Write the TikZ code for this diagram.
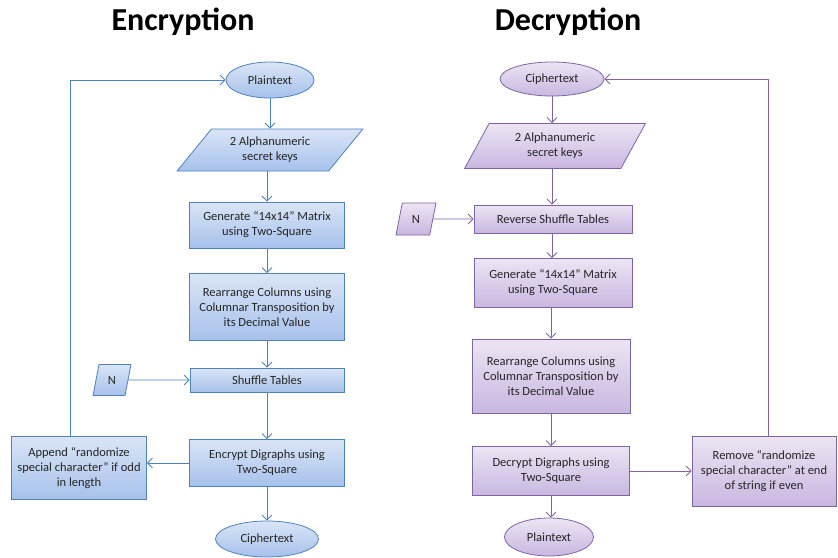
\documentclass[tikz,border=0pt]{standalone}
\usepackage{fontspec}
\setmainfont{Carlito}
\usepackage{tikz}
\usetikzlibrary{shapes.geometric}
\usetikzlibrary{arrows.meta}
\usetikzlibrary{positioning}
\definecolor{encline}{HTML}{4F81BD}
\definecolor{enctop}{HTML}{DAE5F6}
\definecolor{encbot}{HTML}{A6C1EB}
\definecolor{decline}{HTML}{8064A2}
\definecolor{dectop}{HTML}{ECE5F4}
\definecolor{decbot}{HTML}{C8B7E0}
\tikzstyle{base}=[inner sep=1pt, align=center, line width=0.8pt,
  font=\fontsize{12.5}{15}\selectfont, text=black!85]
\tikzstyle{eproc}=[base, rectangle, draw=encline, top color=enctop, bottom color=encbot]
\tikzstyle{dproc}=[base, rectangle, draw=decline, top color=dectop, bottom color=decbot]
\tikzstyle{eterm}=[eproc, ellipse]
\tikzstyle{dterm}=[dproc, ellipse]
\tikzstyle{eio}=[eproc, trapezium, trapezium stretches=true]
\tikzstyle{dio}=[dproc, trapezium, trapezium stretches=true]
\tikzstyle{arrenc}=[->, >={Straight Barb[length=5pt,width=10pt]}, line width=0.8pt,
  draw=encline]
\tikzstyle{arrdec}=[->, >={Straight Barb[length=5pt,width=10pt]}, line width=0.8pt,
  draw=decline]
\tikzstyle{heading}=[font=\fontsize{32}{36}\selectfont\bfseries, text=black]
\begin{document}
\begin{tikzpicture}[x=1pt, y=-1pt]
\useasboundingbox (0,0) rectangle (838,557);

\node[heading] (enctitle) at (183,22) {Encryption};
\node[heading] (dectitle) at (568,22) {Decryption};

% encryption side
\node[eterm, minimum width=88pt, minimum height=36pt] (eplain) at (270,80) {Plaintext};
\node[eio, minimum width=186pt, minimum height=42pt, trapezium left angle=49,
  trapezium right angle=131] (ekeys) at (270,150) {2 Alphanumeric\\secret keys};
\node[eproc, minimum width=155pt, minimum height=46pt] (egen) at (267,225)
  {Generate ``14x14'' Matrix\\using Two-Square};
\node[eproc, minimum width=155pt, minimum height=67pt] (erearr) at (267,307)
  {Rearrange Columns using\\Columnar Transposition by\\its Decimal Value};
\node[eproc, minimum width=154pt, minimum height=24pt] (eshuffle) at (267,380) {Shuffle Tables};
\node[eio, minimum width=38pt, minimum height=31pt, trapezium left angle=77,
  trapezium right angle=103] (en) at (112,380) {N};
\node[eproc, minimum width=155pt, minimum height=47pt] (eencrypt) at (267,463)
  {Encrypt Digraphs using\\Two-Square};
\node[eproc, minimum width=135pt, minimum height=63pt] (eappend) at (79,468)
  {Append ``randomize\\special character'' if odd\\in length};
\node[eterm, minimum width=103pt, minimum height=36pt] (ecipher) at (267,539) {Ciphertext};

\draw[arrenc] (eplain) -- (ekeys);
\draw[arrenc] (ekeys.south -| egen) -- (egen);
\draw[arrenc] (egen) -- (erearr);
\draw[arrenc] (erearr) -- (eshuffle);
\draw[arrenc] (en) -- (eshuffle);
\draw[arrenc] (eshuffle) -- (eencrypt);
\draw[arrenc] (eencrypt) -- (eencrypt.west -| eappend.east);
\draw[arrenc] (eencrypt) -- (ecipher);
\draw[arrenc] ([xshift=-9pt]eappend.north) |- (eplain);

% decryption side
\node[dterm, minimum width=104pt, minimum height=34pt] (dcipher) at (552,79) {Ciphertext};
\node[dio, minimum width=181pt, minimum height=45pt, trapezium left angle=61,
  trapezium right angle=119] (dkeys) at (555,146) {2 Alphanumeric\\secret keys};
\node[dproc, minimum width=158pt, minimum height=28pt] (dshuffle) at (553,219)
  {Reverse Shuffle Tables};
\node[dio, minimum width=40pt, minimum height=32pt, trapezium left angle=77,
  trapezium right angle=103] (dn) at (416,219) {N};
\node[dproc, minimum width=158pt, minimum height=49pt] (dgen) at (553,283)
  {Generate ``14x14'' Matrix\\using Two-Square};
\node[dproc, minimum width=158pt, minimum height=74pt] (drearr) at (551,376)
  {Rearrange Columns using\\Columnar Transposition by\\its Decimal Value};
\node[dproc, minimum width=157pt, minimum height=49pt] (ddecrypt) at (551,471)
  {Decrypt Digraphs using\\Two-Square};
\node[dproc, minimum width=144pt, minimum height=70pt] (dremove) at (764,471)
  {Remove ``randomize\\special character'' at end\\of string if even};
\node[dterm, minimum width=89pt, minimum height=38pt] (dplain) at (549,537) {Plaintext};

\draw[arrdec] (dcipher) -- (dcipher |- dkeys.north);
\draw[arrdec] (dkeys.south -| dcipher) -- (dcipher |- dshuffle.north);
\draw[arrdec] (dn) -- (dshuffle);
\draw[arrdec] (dshuffle.south -| dcipher) -- (dcipher |- dgen.north);
\draw[arrdec] (dgen.south -| drearr) -- (drearr);
\draw[arrdec] (drearr) -- (ddecrypt);
\draw[arrdec] (ddecrypt) -- (dremove);
\draw[arrdec] (ddecrypt.south -| drearr) -- (drearr |- dplain.north);
\draw[arrdec] ([xshift=4pt]dremove.north) |- (dcipher);

\end{tikzpicture}
\end{document}
